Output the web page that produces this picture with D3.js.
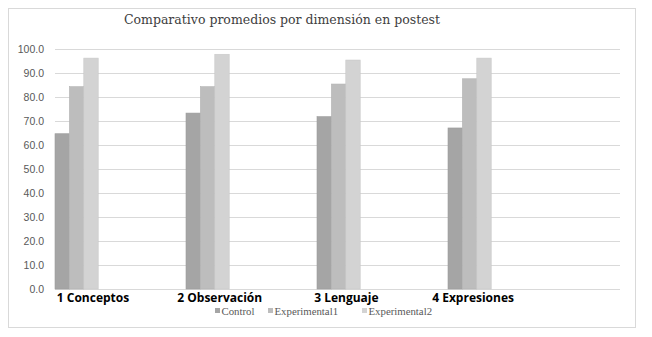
<!DOCTYPE html>
<html>
<head>
<meta charset="utf-8">
<script src="https://cdn.jsdelivr.net/npm/d3@7"></script>
<style>
    body { margin: 0; background: #fff; }
    svg { display: block; }
</style>
</head>
<body>
<div id="chart"></div>
<script>
const categories = ['1 Conceptos', '2 Observación', '3 Lenguaje', '4 Expresiones'];
const seriesNames = ['Control', 'Experimental1', 'Experimental2'];
const control = [64.7, 73.3, 71.8, 67.1];
const experimental1 = [84.3, 84.3, 85.4, 87.6];
const experimental2 = [96.2, 97.8, 95.4, 96.2];
const yTicks = [0, 10, 20, 30, 40, 50, 60, 70, 80, 90, 100];

const colors = ['#a5a5a5', '#bdbdbd', '#d3d3d3'];
const seriesValues = [control, experimental1, experimental2];

let dms = {
    width: 652,
    height: 337,
    margin: { top: 49, right: 32, bottom: 48, left: 55 }
}
dms.chartWidth = dms.width - dms.margin.left - dms.margin.right;
dms.chartHeight = dms.height - dms.margin.top - dms.margin.bottom;

const svg = d3.select('#chart').append('svg')
    .attr('width', dms.width)
    .attr('height', dms.height)

// frame
svg.append('rect')
    .attr('x', 8.5).attr('y', 8.5)
    .attr('width', 627).attr('height', 319)
    .attr('fill', '#fff')
    .attr('stroke', '#d9d9d9')

const content = svg.append('g')
    .attr('transform', `translate(${dms.margin.left}, ${dms.margin.top})`)

const yScale = d3.scaleLinear()
    .domain([0, 100])
    .range([dms.chartHeight, 0])

// bands: excel left empty space after the 4th group
const xScale = d3.scaleBand()
    .domain(categories)
    .range([0, 131 * categories.length])
    .paddingInner(0)
    .paddingOuter(0)

const barW = 14.4;

// grid
content.append('g')
    .selectAll('line')
    .data(yTicks)
    .join('line')
    .attr('x1', 0)
    .attr('x2', dms.chartWidth)
    .attr('y1', d => Math.round(yScale(d)) + 0.5)
    .attr('y2', d => Math.round(yScale(d)) + 0.5)
    .attr('stroke', '#d9d9d9')
    .attr('stroke-width', 1.2)

// y axis
const yAxis = content.append('g')
    .call(d3.axisLeft(yScale).tickValues(yTicks).tickFormat(d3.format('.1f')).tickSize(0).tickPadding(11))
yAxis.select('.domain').remove()
yAxis.selectAll('text')
    .attr('fill', '#595959')
    .style('font-family', 'Liberation Sans, Arial, sans-serif')
    .style('font-size', '10.5px')

// bars
seriesValues.forEach((vals, si) => {
    content.append('g')
        .selectAll('rect')
        .data(categories)
        .join('rect')
        .attr('x', (d, i) => xScale(d) + si * barW)
        .attr('y', (d, i) => yScale(vals[i]))
        .attr('width', barW)
        .attr('height', (d, i) => dms.chartHeight - yScale(vals[i]))
        .attr('fill', colors[si])
        .attr('stroke', d3.color(colors[si]).darker(0.15))
        .attr('stroke-width', 0.6)
})

// category labels (own spacing, as in the picture)
const labelScale = d3.scalePoint()
    .domain(categories)
    .range([38, 38 + 126.7 * 3])
content.append('g')
    .selectAll('text')
    .data(categories)
    .join('text')
    .attr('x', d => labelScale(d))
    .attr('y', dms.chartHeight + 12.5)
    .attr('text-anchor', 'middle')
    .style('font-family', 'Open Sans, Liberation Sans, sans-serif')
    .style('font-weight', 'bold')
    .style('font-size', '12px')
    .attr('fill', '#000')
    .text(d => d)

// title
svg.append('text')
    .attr('x', 282)
    .attr('y', 24)
    .attr('text-anchor', 'middle')
    .style('font-family', 'DejaVu Serif, serif')
    .style('font-size', '12.5px')
    .attr('fill', '#404040')
    .text('Comparativo promedios por dimensión en postest')

// legend
const legendX = [215, 268, 362];
const legend = svg.append('g')
    .selectAll('g')
    .data(seriesNames)
    .join('g')
    .attr('transform', (d, i) => `translate(${legendX[i]}, 311)`)
legend.append('rect')
    .attr('x', 0).attr('y', -3)
    .attr('width', 5).attr('height', 5)
    .attr('fill', (d, i) => colors[i])
legend.append('text')
    .attr('x', 6.5)
    .attr('y', 3.5)
    .style('font-family', 'Liberation Serif, Times New Roman, serif')
    .style('font-size', '10.8px')
    .attr('fill', '#595959')
    .text(d => d)
</script>
</body>
</html>
